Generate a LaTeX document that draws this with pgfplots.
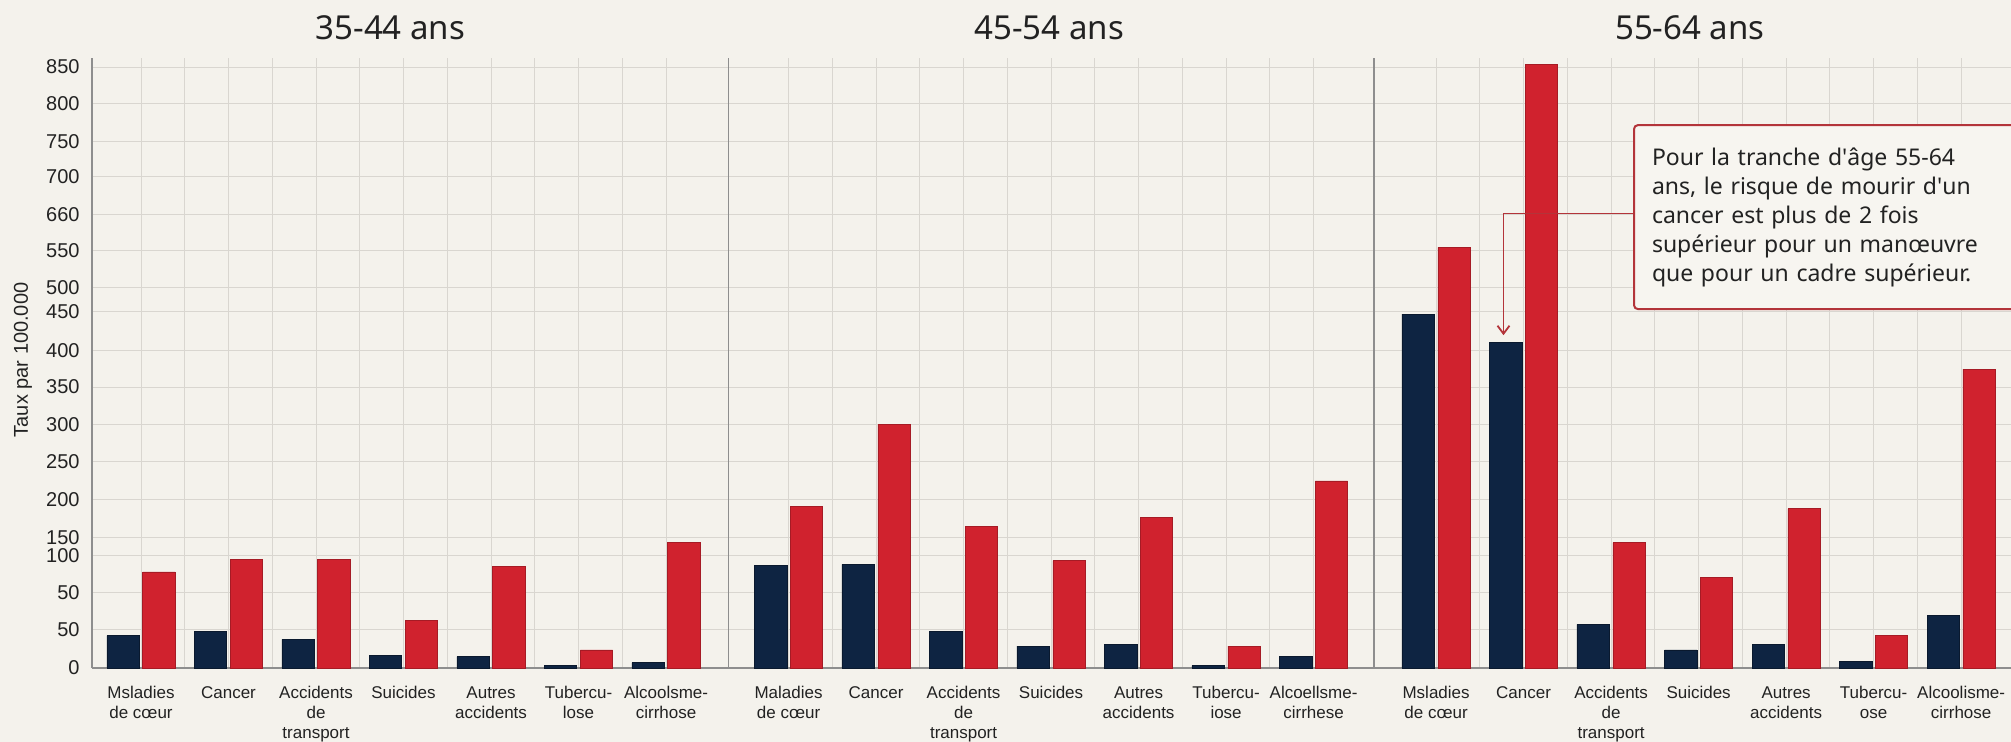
\documentclass[border=0pt]{standalone}
\usepackage{fontspec}
\setmainfont{Liberation Sans}
\newfontfamily\notosans{Noto Sans}
\usepackage{pgfplots}
\usepackage{pgfplotstable}
\pgfplotsset{compat=1.18}
\usetikzlibrary{arrows.meta, backgrounds}

\definecolor{navybar}{HTML}{0E2442}
\definecolor{redbar}{HTML}{D0222E}
\definecolor{bgcream}{HTML}{F4F2EC}
\definecolor{gridgray}{HTML}{D9D6D0}
\definecolor{sepgray}{HTML}{8E8E8E}
\definecolor{textdark}{HTML}{222222}
\definecolor{annred}{HTML}{B3343A}
\definecolor{boxfill}{HTML}{F7F5F0}

% bar heights, in the chart's own (uneven) y scale
\pgfplotstableread{
x     navy  red
0     43    128
1     49    145
2     38    145
3     17    63
4     15    135
5     3     24
6     7     167
7.4   137   215
8.4   138   324
9.4   49    189
10.4  29    143
11.4  31    200
12.4  3     29
13.4  15    249
14.8  471   560
15.8  433   804
16.8  58    167
17.8  24    121
18.8  31    212
19.8  9     43
20.8  70    398
}\rates

\begin{document}
\begin{tikzpicture}
\begin{axis}[
    width=959.5pt, height=305pt, scale only axis,
    xmin=-0.56, xmax=21.37, ymin=0, ymax=812,
    axis lines=left,
    axis line style={-, draw=sepgray, line width=0.6pt},
    ytick={0,51,101,150,174,224,275,324,374,423,474,507,556,604,654,701,751,800},
    yticklabels={0,50,50,100,150,200,250,300,350,400,450,500,550,660,700,750,800,850},
    xtick={0,1,2,3,4,5,6,7.4,8.4,9.4,10.4,11.4,12.4,13.4,14.8,15.8,16.8,17.8,18.8,19.8,20.8},
    xticklabels={
        {Msladies\\de cœur},{Cancer},{Accidents\\de\\transport},{Suicides},{Autres\\accidents},{Tubercu-\\lose},{Alcoolsme-\\cirrhose},
        {Maladies\\de cœur},{Cancer},{Accidents\\de\\transport},{Suicides},{Autres\\accidents},{Tubercu-\\iose},{Alcoellsme-\\cirrhese},
        {Msladies\\de cœur},{Cancer},{Accidents\\de\\transport},{Suicides},{Autres\\accidents},{Tubercu-\\ose},{Alcoolisme-\\cirrhose}},
    minor xtick={0.5,1.5,2.5,3.5,4.5,5.5,7.9,8.9,9.9,10.9,11.9,12.9,15.3,16.3,17.3,18.3,19.3,20.3},
    major tick length=0pt, minor tick length=0pt,
    ymajorgrids, xmajorgrids, xminorgrids,
    grid style={draw=gridgray, line width=0.5pt},
    minor grid style={draw=gridgray, line width=0.5pt},
    yticklabel style={font=\fontsize{10}{12}\selectfont, text=textdark, inner sep=0pt, xshift=-6pt},
    xticklabel style={font=\fontsize{8.5}{10}\selectfont, text=textdark, align=center, anchor=north, inner sep=0pt, yshift=-9pt},
    ybar, bar width=0.37,
    clip=false,
]
\addplot[fill=navybar, draw=navybar!70!black, line width=0.3pt, bar shift=-0.205] table[x=x, y=navy] {\rates};
\addplot[fill=redbar, draw=redbar!80!black, line width=0.3pt, bar shift=0.205] table[x=x, y=red] {\rates};

\draw[sepgray, line width=0.6pt] (axis cs:6.71,0) -- (axis cs:6.71,812);
\draw[sepgray, line width=0.6pt] (axis cs:14.09,0) -- (axis cs:14.09,812);

\node[font=\notosans\fontsize{16.5}{19}\selectfont, text=textdark, yshift=15pt] at (axis cs:2.85,812) {35-44 ans};
\node[font=\notosans\fontsize{16.5}{19}\selectfont, text=textdark, yshift=15pt] at (axis cs:10.38,812) {45-54 ans};
\node[font=\notosans\fontsize{16.5}{19}\selectfont, text=textdark, yshift=15pt] at (axis cs:17.7,812) {55-64 ans};

\node[rotate=90, font=\fontsize{10}{12}\selectfont, text=textdark, yshift=34.5pt] at (rel axis cs:0,0.505) {Taux par 100.000};

\draw[annred, line width=0.9pt, -{Straight Barb[length=4pt, width=6pt]}]
    (axis cs:17.05,605) -- (axis cs:15.57,605) -- (axis cs:15.57,443);
\node[draw=annred, line width=1pt, fill=boxfill, rounded corners=2pt,
      anchor=north west, align=left, text width=178pt,
      inner xsep=9pt, inner ysep=7pt, minimum height=92pt,
      font=\notosans\fontsize{11.5}{14.5}\selectfont, text=textdark]
    at (axis cs:17.05,724)
    {Pour la tranche d\textquotesingle âge 55-64\\ans, le risque de mourir d\textquotesingle un\\cancer est plus de 2 fois\\supérieur pour un manœuvre\\que pour un cadre supérieur.};
\end{axis}
\pgfresetboundingbox
\path[use as bounding box] (-46pt,-37pt) rectangle (959.5pt,334pt);
\begin{scope}[on background layer]
\fill[bgcream] (-46pt,-37pt) rectangle (959.5pt,334pt);
\end{scope}
\end{tikzpicture}
\end{document}
